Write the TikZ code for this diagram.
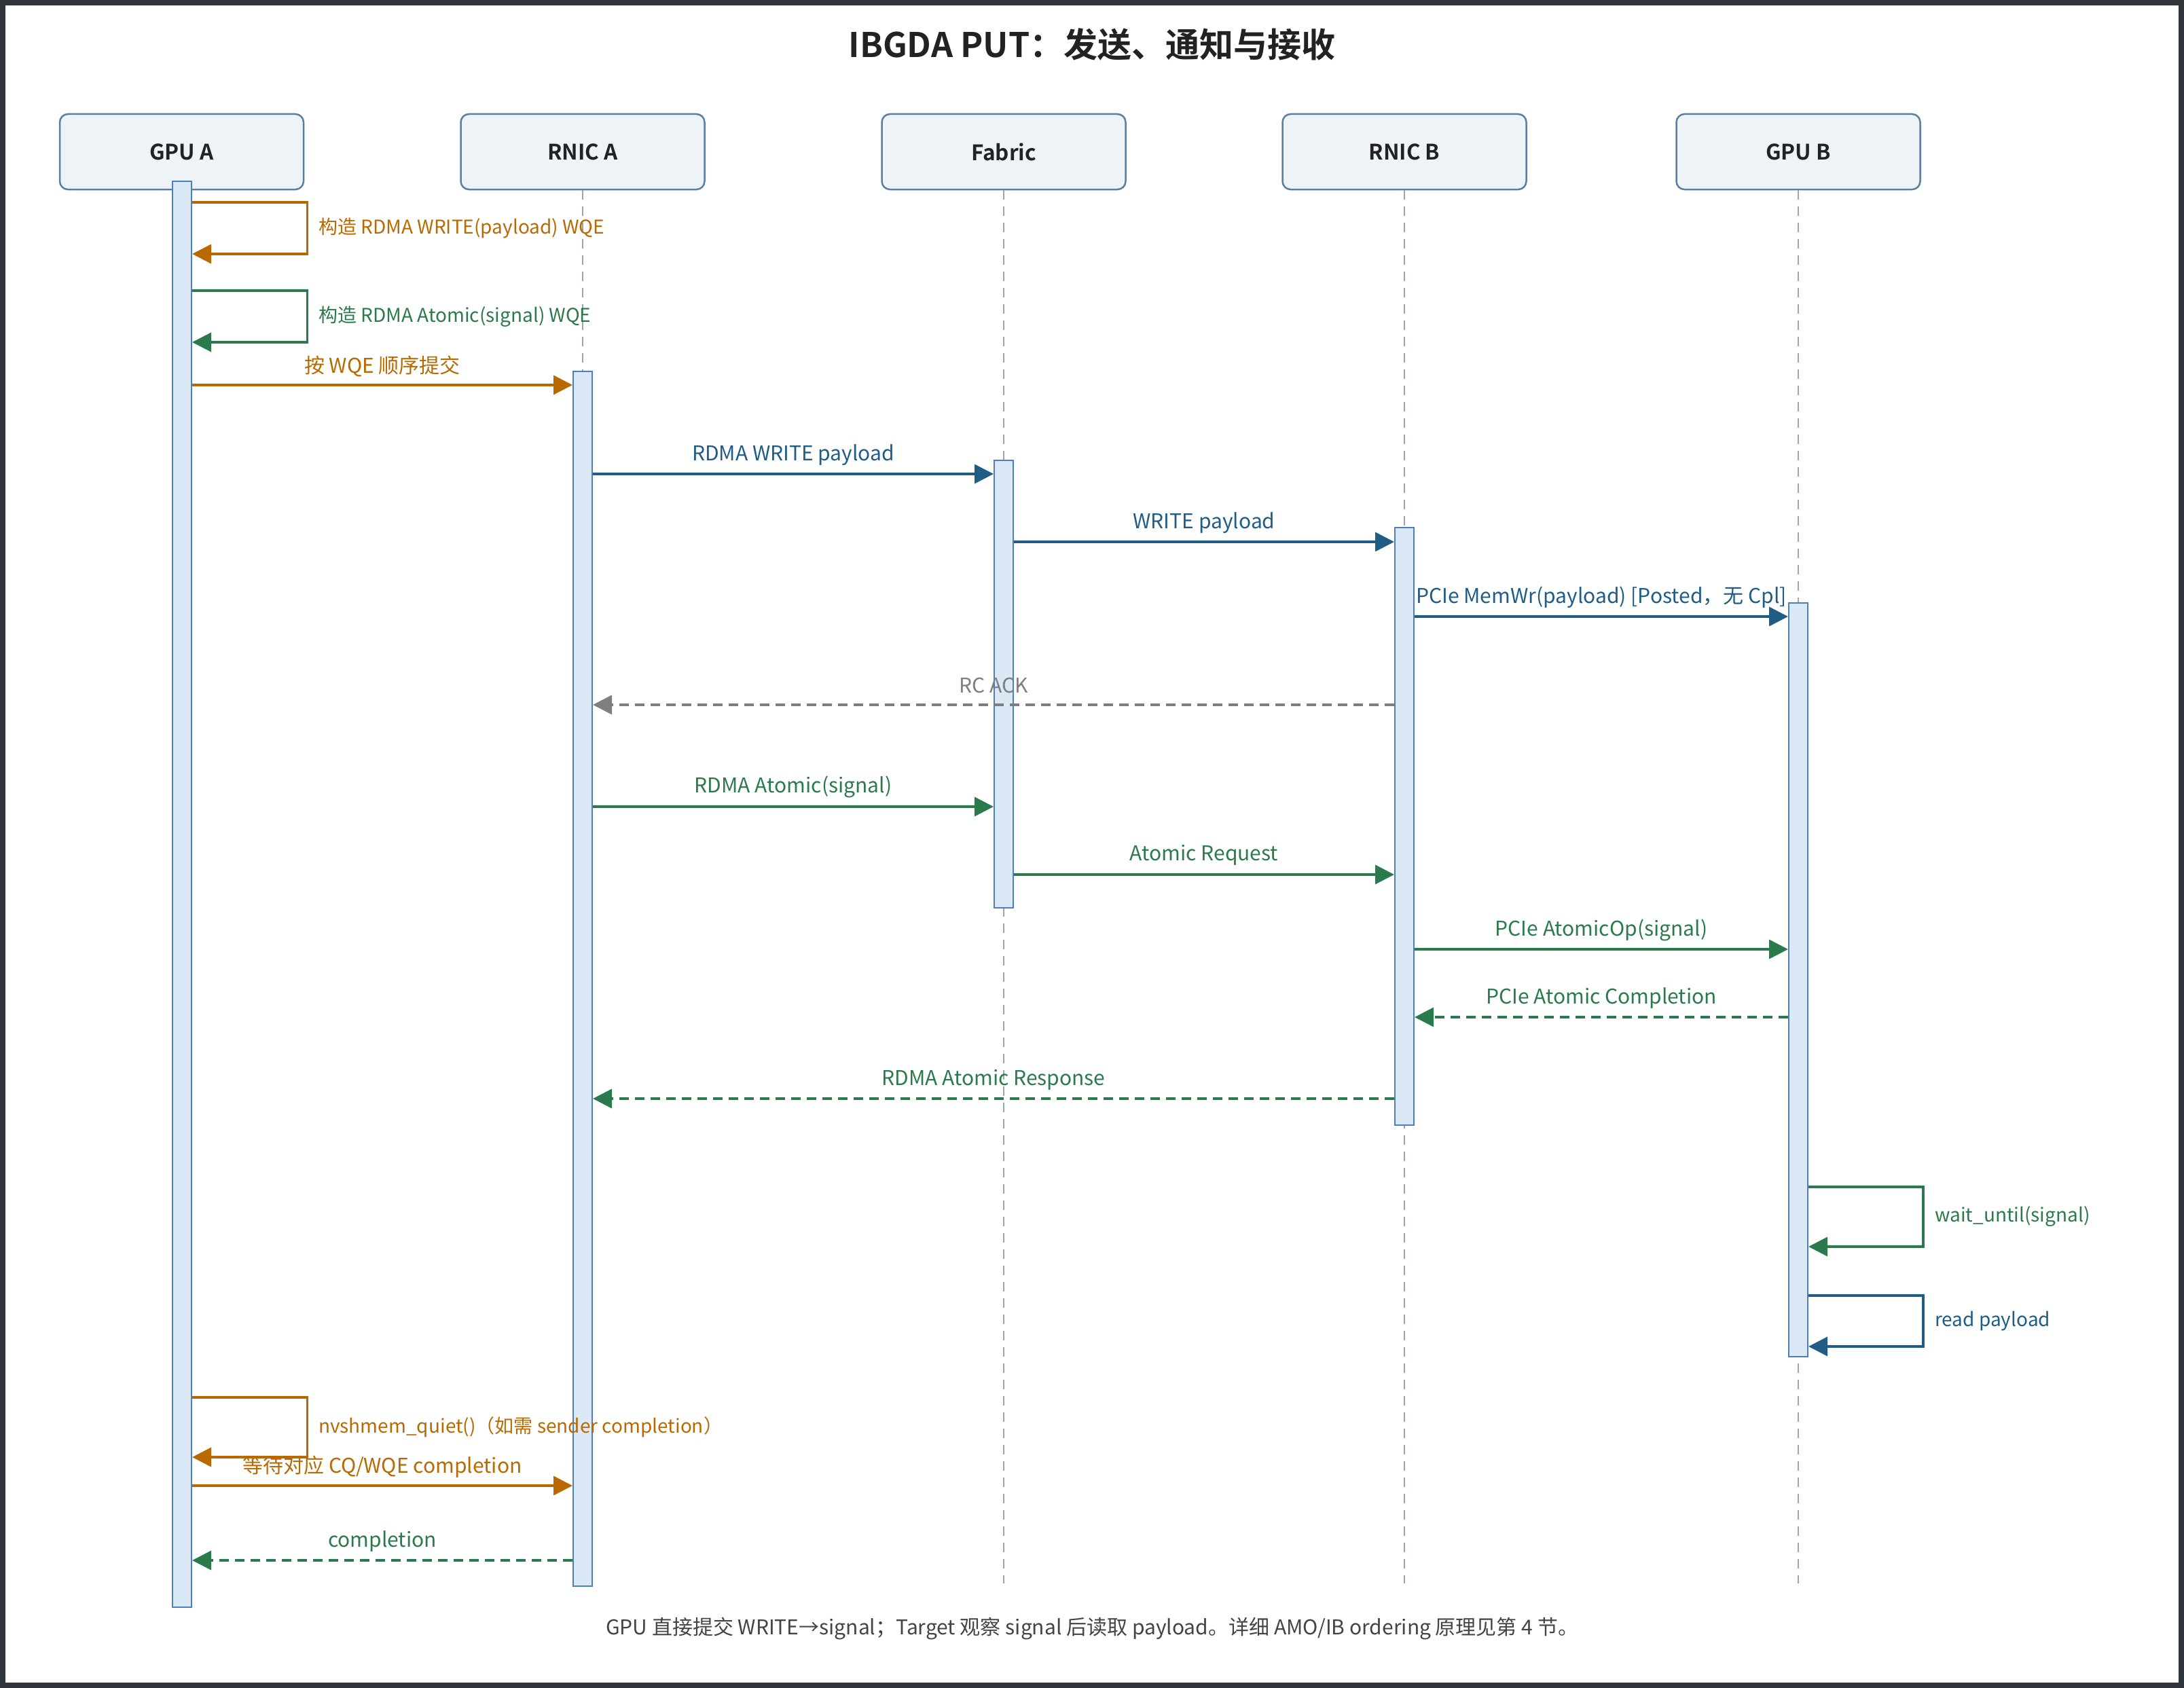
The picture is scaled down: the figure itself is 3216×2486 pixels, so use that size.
\documentclass[tikz,border=0pt]{standalone}
\usepackage{fontspec}
\setmainfont{Noto Sans CJK SC}[BoldFont={Noto Sans CJK SC Bold}]
\usetikzlibrary{arrows.meta}
\definecolor{corange}{HTML}{B86A00}
\definecolor{cgreen}{HTML}{2B7A4B}
\definecolor{cblue}{HTML}{1F5D87}
\definecolor{cgray}{HTML}{7F7F7F}
\definecolor{barfill}{HTML}{DBE8F6}
\definecolor{barline}{HTML}{4A80C0}
\definecolor{boxfill}{HTML}{EEF3F8}
\definecolor{boxline}{HTML}{5A7FA6}
\definecolor{lifec}{HTML}{9AA6B4}
\definecolor{titlec}{HTML}{222222}
\definecolor{footc}{HTML}{444444}
\definecolor{framec}{HTML}{30343B}
\begin{document}
\begin{tikzpicture}[x=1pt,y=-1pt,
  part/.style={draw=boxline, fill=boxfill, line width=2.5pt, rounded corners=12pt, minimum width=359pt, minimum height=111pt, font=\fontsize{31.5}{38}\selectfont\bfseries, text=titlec},
  actbar/.style={draw=barline, fill=barfill, line width=2pt, minimum width=28pt, inner sep=0pt},
  life/.style={draw=lifec, line width=2pt, dash pattern=on 14pt off 10pt},
  msg/.style={line width=3.5pt, -{Triangle[length=28pt,width=28pt]}},
  ret/.style={msg, dash pattern=on 14pt off 9pt},
  lbl/.style={font=\fontsize{30}{36}\selectfont, inner sep=0pt},
  slbl/.style={font=\fontsize{28}{34}\selectfont, inner sep=0pt, anchor=west},
]
\useasboundingbox (0,0) rectangle (3216,2486);
\fill[framec] (0,0) rectangle (3216,2486);
\fill[white] (8,8) rectangle (3208,2478);

\node[font=\fontsize{50}{58}\selectfont\bfseries, text=titlec] (title) at (1608,66) {IBGDA PUT：发送、通知与接收};

% participants
\node[part] (gA) at (267.5,223.5) {GPU A};
\node[part] (rA) at (858,223.5) {RNIC A};
\node[part] (fb) at (1478,223.5) {Fabric};
\node[part] (rB) at (2068,223.5) {RNIC B};
\node[part] (gB) at (2648,223.5) {GPU B};

% lifelines
\coordinate (eA) at (267.5,2332);
\coordinate (eRA) at (858,2332);
\coordinate (eF) at (1478,2332);
\coordinate (eRB) at (2068,2332);
\coordinate (eGB) at (2648,2332);
\draw[life] (gA.south) -- (eA);
\draw[life] (rA.south) -- (eRA);
\draw[life] (fb.south) -- (eF);
\draw[life] (rB.south) -- (eRB);
\draw[life] (gB.south) -- (eGB);

% activation bars
\node[actbar, minimum height=2100pt] (bGA) at (268,1317) {};
\node[actbar, minimum height=1789pt] (bRA) at (858,1441.5) {};
\node[actbar, minimum height=659pt] (bF) at (1478,1007.5) {};
\node[actbar, minimum height=880pt] (bRB) at (2068,1217) {};
\node[actbar, minimum height=1110pt] (bGB) at (2648,1443) {};

% 1 self loop orange
\draw[msg, corange] (bGA.east |- 0,298) -- (452.5,298) -- (452.5,374) -- (bGA.east |- 0,374);
\node[slbl, text=corange] (l1) at (469,336) {构造 RDMA WRITE(payload) WQE};
% 2 self loop green
\draw[msg, cgreen] (bGA.east |- 0,428) -- (452.5,428) -- (452.5,504) -- (bGA.east |- 0,504);
\node[slbl, text=cgreen] (l2) at (469,466) {构造 RDMA Atomic(signal) WQE};
% 3
\draw[msg, corange] (bGA.east |- 0,567) -- (bRA.west |- 0,567);
\node[lbl, text=corange] (l3) at (563,540) {按 WQE 顺序提交};
% 4
\draw[msg, cblue] (bRA.east |- 0,698) -- (bF.west |- 0,698);
\node[lbl, text=cblue] (l4) at (1168,670) {RDMA WRITE payload};
% 5
\draw[msg, cblue] (bF.east |- 0,798) -- (bRB.west |- 0,798);
\node[lbl, text=cblue] (l5) at (1773,770) {WRITE payload};
% 6
\draw[msg, cblue] (bRB.east |- 0,908) -- (bGB.west |- 0,908);
\node[lbl, text=cblue] (l6) at (2358,880) {PCIe MemWr(payload) [Posted，无 Cpl]};
% 7
\draw[ret, cgray] (bRB.west |- 0,1038) -- (bRA.east |- 0,1038);
\node[lbl, text=cgray] (l7) at (1463,1009) {RC ACK};
% 8
\draw[msg, cgreen] (bRA.east |- 0,1188) -- (bF.west |- 0,1188);
\node[lbl, text=cgreen] (l8) at (1168,1159) {RDMA Atomic(signal)};
% 9
\draw[msg, cgreen] (bF.east |- 0,1288) -- (bRB.west |- 0,1288);
\node[lbl, text=cgreen] (l9) at (1773,1259) {Atomic Request};
% 10
\draw[msg, cgreen] (bRB.east |- 0,1398) -- (bGB.west |- 0,1398);
\node[lbl, text=cgreen] (l10) at (2358,1370) {PCIe AtomicOp(signal)};
% 11
\draw[ret, cgreen] (bGB.west |- 0,1498) -- (bRB.east |- 0,1498);
\node[lbl, text=cgreen] (l11) at (2358,1470) {PCIe Atomic Completion};
% 12
\draw[ret, cgreen] (bRB.west |- 0,1618) -- (bRA.east |- 0,1618);
\node[lbl, text=cgreen] (l12) at (1463,1590) {RDMA Atomic Response};
% 13 loop GPU B green
\draw[msg, cgreen] (bGB.east |- 0,1748) -- (2832,1748) -- (2832,1836) -- (bGB.east |- 0,1836);
\node[slbl, text=cgreen] (l13) at (2849,1792) {wait\_until(signal)};
% 14 loop GPU B blue
\draw[msg, cblue] (bGB.east |- 0,1908) -- (2832,1908) -- (2832,1983) -- (bGB.east |- 0,1983);
\node[slbl, text=cblue] (l14) at (2849,1946) {read payload};
% 15 loop GPU A orange
\draw[msg, corange] (bGA.east |- 0,2058) -- (452.5,2058) -- (452.5,2146) -- (bGA.east |- 0,2146);
\node[slbl, text=corange] (l15) at (469,2102) {nvshmem\_quiet()（如需 sender completion）};
% 16
\draw[msg, corange] (bGA.east |- 0,2188) -- (bRA.west |- 0,2188);
\node[lbl, text=corange] (l16) at (563,2160) {等待对应 CQ/WQE completion};
% 17
\draw[ret, cgreen] (bRA.west |- 0,2298) -- (bGA.east |- 0,2298);
\node[lbl, text=cgreen] (l17) at (563,2270) {completion};

\node[font=\fontsize{30}{36}\selectfont, text=footc] (foot) at (1608,2398) {GPU 直接提交 WRITE→signal；Target 观察 signal 后读取 payload。详细 AMO/IB ordering 原理见第 4 节。};
\end{tikzpicture}
\end{document}
